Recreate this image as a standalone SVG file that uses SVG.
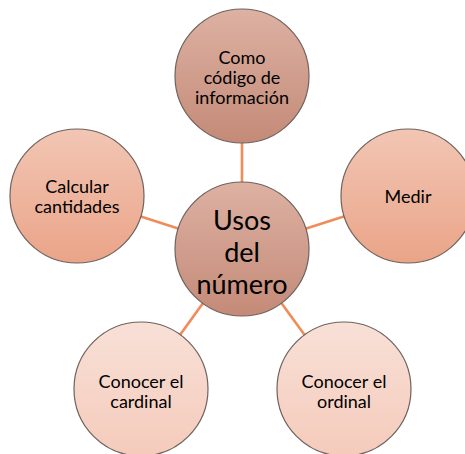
<svg xmlns="http://www.w3.org/2000/svg" width="465" height="454" viewBox="0 0 465 454">
<defs>
<linearGradient id="gDark" x1="0" y1="0" x2="0" y2="1">
<stop offset="0" stop-color="#DDB1A3"/>
<stop offset="1" stop-color="#C48A77"/>
</linearGradient>
<linearGradient id="gMid" x1="0" y1="0" x2="0" y2="1">
<stop offset="0" stop-color="#F2C6B4"/>
<stop offset="1" stop-color="#EAA488"/>
</linearGradient>
<linearGradient id="gLight" x1="0" y1="0" x2="0" y2="1">
<stop offset="0" stop-color="#F8E0D7"/>
<stop offset="1" stop-color="#F5CBBB"/>
</linearGradient>
</defs>
<style>
.c{stroke:#6E625D;stroke-width:1.2}
.t{font-family:Lato,"Open Sans","Noto Sans",sans-serif;font-size:18px;fill:#000;text-anchor:middle}
.tb{font-family:Lato,"Open Sans","Noto Sans",sans-serif;font-size:27px;fill:#000;text-anchor:middle}
.e{stroke:#F08C5A;stroke-width:2.6;fill:none}
</style>
<rect width="465" height="454" fill="#fff"/>
<g id="connectors">
<line class="e" x1="242" y1="249" x2="242" y2="76"/>
<line class="e" x1="242" y1="249" x2="408" y2="196"/>
<line class="e" x1="242" y1="249" x2="344" y2="389"/>
<line class="e" x1="242" y1="249" x2="141" y2="389"/>
<line class="e" x1="242" y1="249" x2="77" y2="196"/>
</g>
<g id="center">
<circle class="c" cx="242" cy="249" r="67" fill="url(#gDark)"/>
<text class="tb" x="242" y="230">Usos</text>
<text class="tb" x="242" y="262">del</text>
<text class="tb" x="242" y="294">número</text>
</g>
<g id="codigo">
<circle class="c" cx="242" cy="76" r="67" fill="url(#gDark)"/>
<text class="t" x="242" y="64">Como</text>
<text class="t" x="242" y="84">código de</text>
<text class="t" x="242" y="104">información</text>
</g>
<g id="medir">
<circle class="c" cx="408" cy="196" r="67" fill="url(#gMid)"/>
<text class="t" x="408" y="203">Medir</text>
</g>
<g id="ordinal">
<circle class="c" cx="344" cy="389" r="67" fill="url(#gLight)"/>
<text class="t" x="344" y="388">Conocer el</text>
<text class="t" x="344" y="408">ordinal</text>
</g>
<g id="cardinal">
<circle class="c" cx="141" cy="389" r="67" fill="url(#gLight)"/>
<text class="t" x="141" y="388">Conocer el</text>
<text class="t" x="141" y="408">cardinal</text>
</g>
<g id="calcular">
<circle class="c" cx="77" cy="196" r="67" fill="url(#gMid)"/>
<text class="t" x="77" y="193">Calcular</text>
<text class="t" x="77" y="213">cantidades</text>
</g>
</svg>
